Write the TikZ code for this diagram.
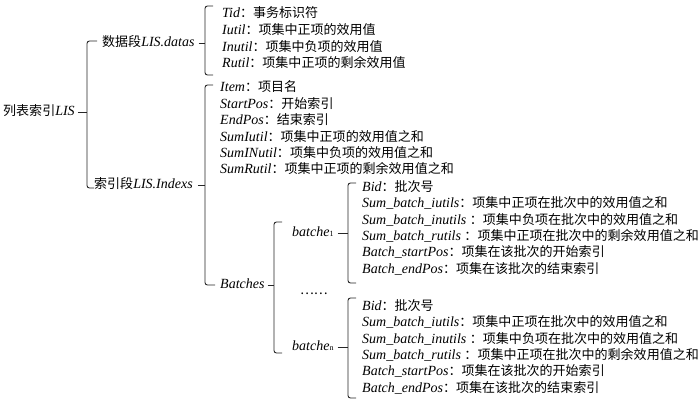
\documentclass[tikz,border=0pt]{standalone}
\usepackage{fontspec}
\setmainfont{Liberation Serif}
\newfontfamily\cjk{Noto Sans CJK SC}[Scale=0.93]
\newcommand\zh[1]{{\cjk\upshape #1}}
\newcommand\en[1]{\textit{#1}}
\newcommand\batchitems[2]{%
  \foreach \dy/\t [count=\i] in {0/{\en{Bid}\zh{：批次号}},
    16.3/{\en{Sum\_batch\_iutils}\zh{：项集中正项在批次中的效用值之和}},
    32.6/{\en{Sum\_batch\_inutils }\zh{：项集中负项在批次中的效用值之和}},
    48.9/{\en{Sum\_batch\_rutils }\zh{：项集中正项在批次中的剩余效用值之和}},
    65.2/{\en{Batch\_startPos}\zh{：项集在该批次的开始索引}},
    81.5/{\en{Batch\_endPos}\zh{：项集在该批次的结束索引}}}
    {\node[txt] (#1-\i) at (360,{#2+\dy}) {\t};}}
\tikzset{
  txt/.style={anchor=west,inner sep=0pt,inner xsep=2pt,text height=10pt,text depth=3pt,
    font=\fontsize{14}{16}\selectfont},
  brk/.style={draw=black!85,line width=0.9pt,rounded corners=2.5pt},
  link/.style={draw=black!85,line width=0.9pt}
}
\begin{document}
\begin{tikzpicture}[x=1pt,y=-1pt]
\useasboundingbox (0,0) rectangle (700,402);
% root
\node[txt] (root) at (1,112) {\zh{列表索引}\en{LIS}};
\coordinate (brA) at (87,113);
\draw[brk] (97,41) -- (87,41) -- (87,188) -- (94,188);
\draw[link] ([xshift=1pt]root.east) -- (root.east -| brA);
% level 1
\node[txt] (datas) at (100,43) {\zh{数据段}\en{LIS.datas}};
\node[txt] (indexs) at (92,185) {\zh{索引段}\en{LIS.Indexs}};
\coordinate (brB) at (205,42);
\coordinate (brC) at (205,187);
\draw[brk] (213,6) -- (205,6) -- (205,75) -- (213,75);
\draw[brk] (213,85) -- (205,85) -- (205,285) -- (215,285);
\draw[link] ([xshift=2pt]datas.east) -- (datas.east -| brB);
\draw[link] ([xshift=3pt]indexs.east) -- (indexs.east -| brC);
% datas children
\foreach \y/\t [count=\i] in {14/{\en{Tid}\zh{：事务标识符}},
   31/{\en{Iutil}\zh{：项集中正项的效用值}},
   48/{\en{Inutil}\zh{：项集中负项的效用值}},
   64/{\en{Rutil}\zh{：项集中正项的剩余效用值}}}
  {\node[txt] (d-\i) at (220,\y) {\t};}
% index children
\foreach \y/\t [count=\i] in {88/{\en{Item}\zh{：项目名}},
   104.5/{\en{StartPos}\zh{：开始索引}},
   121/{\en{EndPos}\zh{：结束索引}},
   137.5/{\en{SumIutil}\zh{：项集中正项的效用值之和}},
   154/{\en{SumINutil}\zh{：项集中负项的效用值之和}},
   170/{\en{SumRutil}\zh{：项集中正项的剩余效用值之和}}}
  {\node[txt] (x-\i) at (218,\y) {\t};}
\node[txt] (batches) at (218,285) {\en{Batches}};
% batches level
\coordinate (brD) at (274,287);
\draw[brk] (282,222) -- (274,222) -- (274,353) -- (282,353);
\draw[link] ([xshift=1pt]batches.east) -- (batches.east -| brD);
\node[txt] (b1) at (290,233) {\en{batche}{\fontsize{8}{8}\selectfont 1}};
\node[txt] (bn) at (290,347) {\en{batche}{\fontsize{8}{8}\selectfont n}};
\node[txt] (dots) at (298,291) {\zh{……}};
\coordinate (brE) at (348,233);
\coordinate (brF) at (348,347);
\draw[brk] (356,183) -- (348,183) -- (348,283) -- (356,283);
\draw[brk] (356,298) -- (348,298) -- (348,398) -- (356,398);
\draw[link] ([xshift=2pt]b1.east) -- (b1.east -| brE);
\draw[link] ([xshift=2pt]bn.east) -- (bn.east -| brF);
\batchitems{g1}{188}
\batchitems{g2}{307}
\end{tikzpicture}
\end{document}
